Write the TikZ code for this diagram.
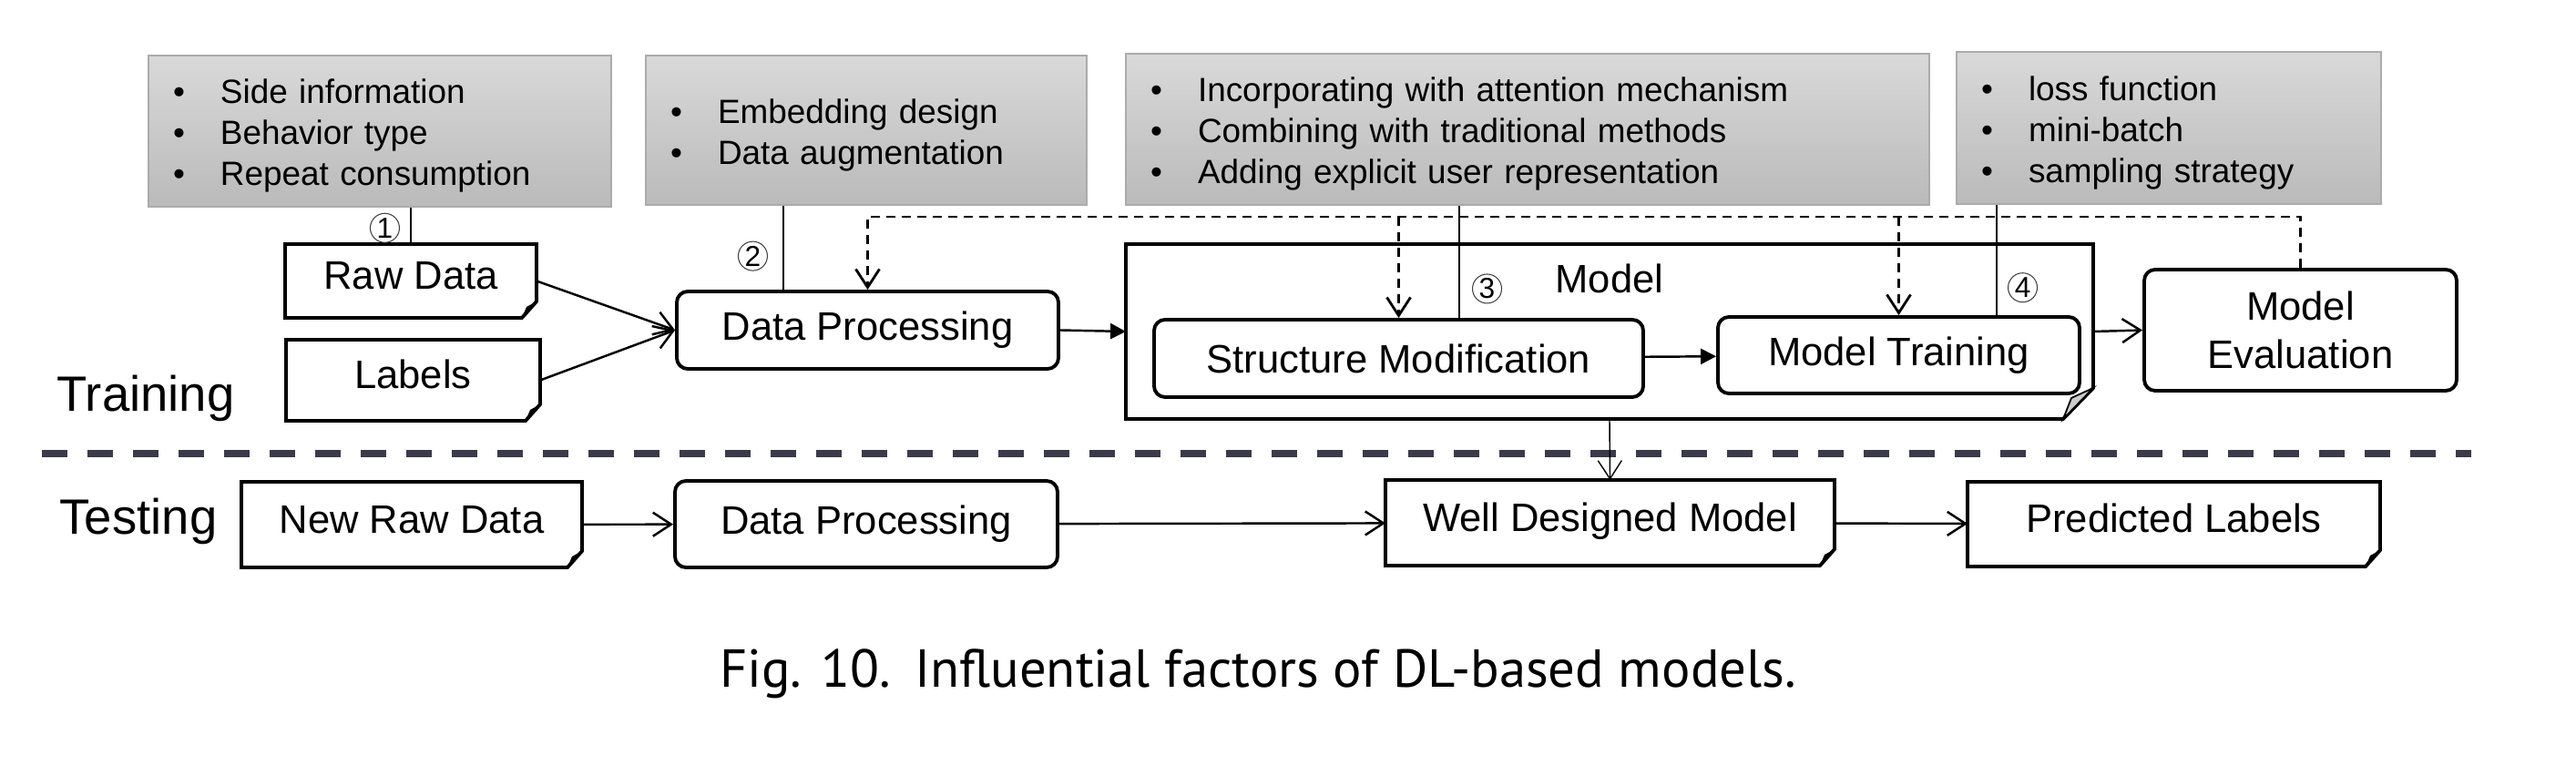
\documentclass[tikz,border=0pt]{standalone}
\usepackage{fontspec}
\setmainfont{Liberation Sans}
\newfontfamily\capfont{PT Sans}
\usetikzlibrary{arrows.meta,positioning}

\definecolor{sepcol}{RGB}{58,58,74}
\newcommand{\itm}{\makebox[0.52cm][l]{\textbullet}}
\newcommand{\itmtop}{\rule{0pt}{0.37cm}\itm}

\tikzset{
  factor/.style={rectangle, draw=black!33, top color=black!15, bottom color=black!27,
    inner xsep=0.27cm, inner ysep=0pt, align=left, font=\fontsize{10.5}{12.8}\selectfont},
  docbox/.style={rectangle, inner sep=0pt, outer sep=0pt, text height=0.35cm, text depth=0.16cm,
    font=\fontsize{12.4}{15}\selectfont},
  procbox/.style={rectangle, draw, line width=1.1pt, rounded corners=0.12cm, inner sep=0pt,
    align=center, font=\fontsize{12.4}{15}\selectfont},
  docline/.style={line width=1.1pt, line join=miter},
  circnum/.style={circle, draw=black!75, line width=0.3pt, inner sep=0pt, minimum size=0.32cm,
    font=\fontsize{9}{9}\selectfont},
  phase/.style={anchor=base west, inner sep=0pt, font=\fontsize{15.5}{18}\selectfont},
  arr/.style={line width=0.7pt, -{Straight Barb[length=0.2cm, width=0.26cm]}},
  tri/.style={line width=0.7pt, -{Triangle[length=0.17cm, width=0.17cm]}},
  fb/.style={line width=0.8pt, dash pattern=on 0.1cm off 0.07cm},
  facline/.style={line width=0.4pt}
}

\begin{document}
\begin{tikzpicture}
  \useasboundingbox (0,0) rectangle (28.28,8.52);

  % Influential factors
  \node[factor, text width=4.54cm, minimum height=1.66cm] (facraw) at (4.17,7.08)
    {\itmtop Side information\\ \itm Behavior type\\ \itm Repeat consumption};
  \node[factor, text width=4.30cm, minimum height=1.64cm] (facproc) at (9.51,7.09)
    {\itmtop Embedding design\\ \itm Data augmentation};
  \node[factor, text width=8.28cm, minimum height=1.66cm] (facstruct) at (16.77,7.10)
    {\itmtop Incorporating with attention mechanism\\ \itm Combining with traditional methods\\
     \itm Adding explicit user representation};
  \node[factor, text width=4.12cm, minimum height=1.67cm] (factrain) at (23.81,7.115)
    {\itmtop loss function\\ \itm mini-batch\\ \itm sampling strategy};

  % Training
  \node[phase] (trainlbl) at (0.62,4.00) {Training};
  \node[docbox, minimum width=2.76cm, minimum height=0.81cm] (raw) at (4.51,5.435) {Raw Data};
  \node[docbox, minimum width=2.79cm, minimum height=0.89cm] (labels) at (4.535,4.345) {Labels};
  \node[procbox, minimum width=4.19cm, minimum height=0.85cm] (proc) at (9.525,4.895) {Data Processing};
  \node[docbox, minimum width=10.62cm, minimum height=1.92cm] (model) at (17.67,4.88) {};
  \node[anchor=base, font=\fontsize{12.4}{15}\selectfont] (modellbl) at (17.67,5.30) {Model};
  \node[procbox, minimum width=5.37cm, minimum height=0.85cm] (struct) at (15.355,4.585) {Structure Modification};
  \node[procbox, minimum width=3.97cm, minimum height=0.84cm] (mtrain) at (20.845,4.62) {Model Training};
  \node[procbox, minimum width=3.43cm, minimum height=1.33cm] (eval) at (25.255,4.895) {Model\\Evaluation};

  % Testing
  \node[phase] (testlbl) at (0.65,2.65) {Testing};
  \node[docbox, minimum width=3.74cm, minimum height=0.94cm] (newraw) at (4.52,2.76) {New Raw Data};
  \node[procbox, minimum width=4.2cm, minimum height=0.95cm] (proc2) at (9.51,2.765) {Data Processing};
  \node[docbox, minimum width=4.93cm, minimum height=0.94cm] (wdm) at (17.675,2.78) {Well Designed Model};
  \node[docbox, minimum width=4.53cm, minimum height=0.93cm] (pred) at (23.865,2.765) {Predicted Labels};

  % document outlines with folded corner
  \foreach \n in {raw,labels,newraw,wdm,pred} {
    \draw[docline] (\n.north west) -- (\n.north east) -- ([yshift=0.18cm]\n.south east)
      -- ([xshift=-0.16cm]\n.south east) -- (\n.south west) -- cycle;
    \fill ([yshift=0.18cm]\n.south east) -- ([xshift=-0.16cm]\n.south east)
      -- ([xshift=-0.11cm,yshift=0.12cm]\n.south east) -- cycle;
  }
  \draw[docline] (model.north west) -- (model.north east) -- ([yshift=0.34cm]model.south east)
    -- ([xshift=-0.33cm]model.south east) -- (model.south west) -- cycle;
  \filldraw[fill=black!20, line width=0.5pt] ([yshift=0.34cm]model.south east)
    -- ([xshift=-0.33cm]model.south east) -- ([xshift=-0.24cm,yshift=0.23cm]model.south east) -- cycle;

  % factor links
  \draw[facline] (raw.north) -- (raw.north |- facraw.south) node[circnum, pos=0.44, left=0.12cm] {1};
  \coordinate (c2) at ([xshift=-0.925cm]proc.north);
  \draw[facline] (c2) -- (c2 |- facproc.south) node[circnum, pos=0.4, left=0.17cm] {2};
  \coordinate (c3) at ([xshift=0.665cm]struct.north);
  \draw[facline] (c3) -- (c3 |- facstruct.south) node[circnum, pos=0.26, right=0.14cm] {3};
  \coordinate (c4) at ([xshift=1.075cm]mtrain.north);
  \draw[facline] (c4) -- (c4 |- factrain.south) node[circnum, pos=0.25, right=0.12cm] {4};

  % flow
  \draw[arr] (raw.east) -- (proc.west);
  \draw[arr] (labels.east) -- (proc.west);
  \draw[tri] (proc.east) -- (model.west);
  \draw[tri] (struct) -- (mtrain);
  \draw[arr] (model.east) -- (eval.west);

  % feedback
  \coordinate (fbtop) at ([yshift=0.56cm]eval.north);
  \draw[arr, fb] (eval.north) -- (fbtop) -| (proc.north);
  \draw[arr, fb] (struct.north |- fbtop) -- (struct.north);
  \draw[arr, fb] (mtrain.north |- fbtop) -- (mtrain.north);

  % separator
  \draw[sepcol, line width=2pt, dash pattern=on 0.28cm off 0.22cm] (0.46,3.54) -- (27.13,3.54);

  \draw[arr, line width=0.4pt] (model.south) -- (wdm.north);
  \draw[arr] (newraw) -- (proc2);
  \draw[arr] (proc2) -- (wdm);
  \draw[arr] (wdm) -- (pred);

  % caption
  \node[anchor=base, font=\capfont\fontsize{16.7}{19}\selectfont] (caption) at (13.81,0.97)
    {Fig. 10.\hspace{0.45em}Influential factors of DL-based models.};
\end{tikzpicture}
\end{document}
